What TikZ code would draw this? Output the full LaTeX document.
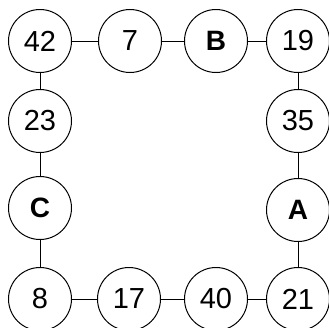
\documentclass[tikz,border=0pt]{standalone}
\usepackage{fontspec}
\setmainfont{Liberation Sans}
\usepackage{tikz}

\begin{document}
\begin{tikzpicture}[
    x=1pt, y=-1pt,
    every node/.style={font=\fontsize{29}{29}\selectfont},
    vert/.style={
        draw, circle, line width=1pt,
        minimum size=63pt, inner sep=0pt
    },
    key/.style={vert, font=\fontsize{28}{28}\selectfont\bfseries},
    edge/.style={line width=1pt},
]
\useasboundingbox (0,0) rectangle (329,327);

% ── top row ──
\node[vert] (n42) at (40,41) {42};
\node[vert] (n7)  at (130,41) {7};
\node[key]  (B)   at (216,41) {B};
\node[vert] (n19) at (298,41) {19};

% ── left column ──
\node[vert] (n23) at (40,121) {23};
\node[key]  (C)   at (40,208) {C};
\node[vert] (n8)  at (40,299) {8};

% ── right column ──
\node[vert] (n35) at (298,121) {35};
\node[key]  (A)   at (298,210) {A};
\node[vert] (n21) at (298,299) {21};

% ── bottom row ──
\node[vert] (n17) at (129,299) {17};
\node[vert] (n40) at (216,299) {40};

% ── edges ──
\draw[edge] (n42) -- (n7);
\draw[edge] (n7) -- (B);
\draw[edge] (B) -- (n19);
\draw[edge] (n42) -- (n23);
\draw[edge] (n23) -- (C);
\draw[edge] (C) -- (n8);
\draw[edge] (n19) -- (n35);
\draw[edge] (n35) -- (A);
\draw[edge] (A) -- (n21);
\draw[edge] (n8) -- (n17);
\draw[edge] (n17) -- (n40);
\draw[edge] (n40) -- (n21);

\end{tikzpicture}
\end{document}
